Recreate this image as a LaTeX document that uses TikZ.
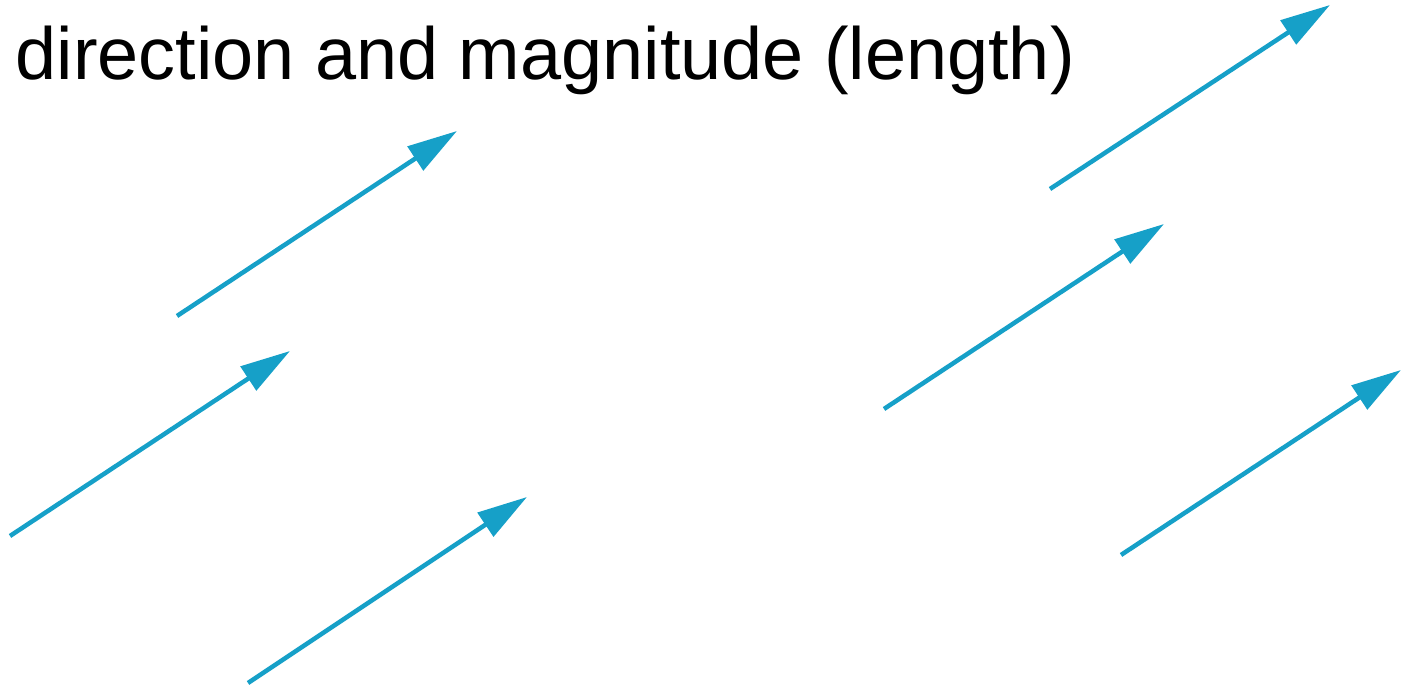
\documentclass[tikz,border=0pt]{standalone}
\usepackage{fontspec}
\setmainfont{Liberation Sans}
\usetikzlibrary{arrows.meta}
\definecolor{veccol}{RGB}{22,160,200}

\begin{document}
\begin{tikzpicture}[
  x=0.01cm, y=-0.01cm,
  vec/.style={-{Triangle[length=0.5cm, width=0.28cm]}, line width=0.045cm, draw=veccol},
  title/.style={anchor=base west, inner sep=0pt, font=\fontsize{21pt}{25pt}\selectfont}
]
\useasboundingbox (0,0) rectangle (1408,686);

%% Heading
\node[title] (head) at (15,80) {direction and magnitude (length)};

%% Vector end points (left group)
\coordinate (v1s) at (177,316);  \coordinate (v1e) at (457,131);
\coordinate (v2s) at (10,536);   \coordinate (v2e) at (290,351);
\coordinate (v3s) at (248,683);  \coordinate (v3e) at (527,497);

%% Vector end points (right group)
\coordinate (v4s) at (1050,189); \coordinate (v4e) at (1330,5);
\coordinate (v5s) at (884,409);  \coordinate (v5e) at (1164,224);
\coordinate (v6s) at (1121,555); \coordinate (v6e) at (1401,370);

%% Vectors
\foreach \i in {1,...,6}
  \draw[vec] (v\i s) -- (v\i e);

\end{tikzpicture}
\end{document}
